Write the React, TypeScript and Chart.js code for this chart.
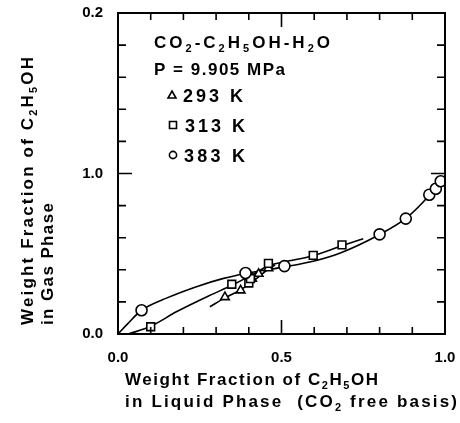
import { useEffect, useRef } from 'react';
import { Chart, registerables } from 'chart.js';

Chart.register(...registerables);

const FONT = '"Liberation Sans", Arial, Helvetica, sans-serif';

// Axis tick labels (only these positions carry text)
const xTickValues = [0, 0.5, 1];
const xTickLabels = ['0.0', '0.5', '1.0'];
const yTickValues = [0, 1, 2];
const yTickLabels = ['0.0', '1.0', '0.2'];

// Measured equilibrium points, weight fraction liquid (x) vs gas (y)
const x293 = [0.327, 0.375, 0.41, 0.43, 0.46];
const y293 = [0.23, 0.272, 0.345, 0.375, 0.41];

const x313 = [0.1, 0.348, 0.4, 0.405, 0.46, 0.597, 0.685];
const y313 = [0.045, 0.31, 0.318, 0.345, 0.44, 0.49, 0.555];

const x383 = [0.072, 0.39, 0.509, 0.8, 0.88, 0.952, 0.972, 0.987];
const y383 = [0.148, 0.38, 0.423, 0.621, 0.719, 0.868, 0.905, 0.952];

// Correlated curves
const curve293X = [0.281, 0.327, 0.375, 0.42, 0.46, 0.48];
const curve293Y = [0.17, 0.225, 0.275, 0.34, 0.405, 0.43];

const curve313X = [0.032, 0.1, 0.18, 0.28, 0.35, 0.42, 0.46, 0.51, 0.597, 0.685, 0.75];
const curve313Y = [0, 0.048, 0.14, 0.24, 0.305, 0.38, 0.425, 0.45, 0.488, 0.55, 0.594];

const curve383X = [0, 0.03, 0.072, 0.15, 0.24, 0.32, 0.39, 0.5, 0.6, 0.68, 0.8, 0.88, 0.95, 0.99];
const curve383Y = [0, 0.065, 0.148, 0.225, 0.295, 0.345, 0.377, 0.415, 0.455, 0.505, 0.62, 0.72, 0.86, 0.965];

type Seg = [string, boolean];

const pts = (xs: number[], ys: number[]) => xs.map((x, i) => ({ x, y: ys[i] }));

// Draws a line of text with subscripts, letter-spaced to span the given width
function drawRich(
  ctx: CanvasRenderingContext2D,
  segs: Seg[],
  x: number,
  y: number,
  size: number,
  width: number,
  rotate = false
) {
  ctx.save();
  ctx.translate(x, y);
  if (rotate) ctx.rotate(-Math.PI / 2);
  ctx.fillStyle = '#000';
  ctx.textAlign = 'left';
  ctx.textBaseline = 'alphabetic';
  const main = `bold ${size}px ${FONT}`;
  const sub = `bold ${Math.round(size * 0.62)}px ${FONT}`;
  (ctx as any).letterSpacing = '0px';
  const widths: number[] = [];
  let natural = 0;
  let n = 0;
  for (const [t, s] of segs) {
    ctx.font = s ? sub : main;
    const w = ctx.measureText(t).width;
    widths.push(w);
    natural += w;
    n += t.length;
  }
  const sp = n > 1 ? (width - natural) / (n - 1) : 0;
  (ctx as any).letterSpacing = `${sp}px`;
  let cx = 0;
  segs.forEach(([t, s], i) => {
    ctx.font = s ? sub : main;
    ctx.fillText(t, cx, s ? size * 0.22 : 0);
    cx += widths[i] + sp * t.length;
  });
  ctx.restore();
}

function marker(ctx: CanvasRenderingContext2D, kind: string, x: number, y: number) {
  ctx.save();
  ctx.lineWidth = 1.6;
  ctx.strokeStyle = '#000';
  ctx.fillStyle = '#fff';
  ctx.beginPath();
  if (kind === 'triangle') {
    ctx.moveTo(x, y - 4);
    ctx.lineTo(x + 4, y + 3);
    ctx.lineTo(x - 4, y + 3);
    ctx.closePath();
  } else if (kind === 'rect') {
    ctx.rect(x - 3.5, y - 3.5, 7, 7);
  } else {
    ctx.arc(x, y, 3.6, 0, Math.PI * 2);
  }
  ctx.fill();
  ctx.stroke();
  ctx.restore();
}

const framePlugin = {
  id: 'frameAndNotes',
  afterDraw(chart: any) {
    const ctx: CanvasRenderingContext2D = chart.ctx;
    const { left, right, top, bottom } = chart.chartArea;
    const xs = chart.scales.x;
    const ys = chart.scales.y;
    ctx.save();
    ctx.strokeStyle = '#000';
    ctx.lineWidth = 2;
    ctx.strokeRect(left, top, right - left, bottom - top);
    ctx.lineWidth = 1.6;
    ctx.beginPath();
    for (const t of xs.ticks) {
      const v = t.value;
      if (v <= 0 || v >= 1) continue;
      const px = xs.getPixelForValue(v);
      const len = Math.abs(v - 0.5) < 1e-6 ? 14 : 7;
      ctx.moveTo(px, bottom);
      ctx.lineTo(px, bottom - len);
      ctx.moveTo(px, top);
      ctx.lineTo(px, top + len);
    }
    for (const t of ys.ticks) {
      const v = t.value;
      if (v <= 0 || v >= 2) continue;
      const py = ys.getPixelForValue(v);
      const len = Math.abs(v - 1) < 1e-6 ? 14 : 8;
      ctx.moveTo(left, py);
      ctx.lineTo(left + len, py);
      ctx.moveTo(right, py);
      ctx.lineTo(right - len, py);
    }
    ctx.stroke();
    ctx.restore();

    // System description and symbol key
    drawRich(ctx, [['CO', false], ['2', true], ['-C', false], ['2', true], ['H', false], ['5', true], ['OH-H', false], ['2', true], ['O', false]], 154, 48, 17, 176);
    drawRich(ctx, [['P = 9.905 MPa', false]], 154, 75, 17, 131);
    marker(ctx, 'triangle', 172, 95);
    drawRich(ctx, [['293 K', false]], 183, 101.5, 18, 60);
    marker(ctx, 'rect', 173, 125);
    drawRich(ctx, [['313 K', false]], 185, 131.5, 18, 60);
    marker(ctx, 'circle', 173, 155);
    drawRich(ctx, [['383 K', false]], 184, 161.5, 18, 61);

    // Axis titles
    drawRich(ctx, [['Weight Fraction of C', false], ['2', true], ['H', false], ['5', true], ['OH', false]], 125, 385, 17, 253);
    drawRich(ctx, [['in Liquid Phase  (CO', false], ['2', true], [' free basis)', false]], 125, 407, 17, 332);
    drawRich(ctx, [['Weight Fraction of C', false], ['2', true], ['H', false], ['5', true], ['OH', false]], 33, 325, 17, 268, true);
    drawRich(ctx, [['in Gas Phase', false]], 52.5, 325, 17, 122, true);
  },
};

export default function App() {
  const ref = useRef<HTMLCanvasElement>(null);

  useEffect(() => {
    if (!ref.current) return;
    const markerSet = (data: any, style: string, radius: number) => ({
      data,
      showLine: false,
      pointStyle: style,
      pointRadius: radius,
      pointBackgroundColor: '#fff',
      pointBorderColor: '#000',
      pointBorderWidth: 1.6,
    });
    const curveSet = (data: any) => ({
      data,
      showLine: true,
      borderColor: '#000',
      borderWidth: 1.6,
      pointRadius: 0,
      cubicInterpolationMode: 'monotone',
      fill: false,
    });
    const tickFont = { family: FONT, size: 15, weight: 'bold' as const };
    const chart = new Chart(ref.current, {
      type: 'scatter',
      data: {
        datasets: [
          markerSet(pts(x383, y383), 'circle', 5.5),
          markerSet(pts(x313, y313), 'rect', 5.5),
          markerSet(pts(x293, y293), 'triangle', 5),
          curveSet(pts(curve383X, curve383Y)),
          curveSet(pts(curve313X, curve313Y)),
          curveSet(pts(curve293X, curve293Y)),
        ] as any,
      },
      options: {
        responsive: false,
        animation: false,
        devicePixelRatio: 1,
        events: [],
        layout: { padding: { top: 13, right: 15, left: 0, bottom: 0 } },
        plugins: { legend: { display: false }, tooltip: { enabled: false } },
        scales: {
          x: {
            type: 'linear',
            min: 0,
            max: 1,
            afterFit: (s: any) => {
              s.height = 89;
              s.paddingLeft = 0;
              s.paddingRight = 0;
            },
            grid: { display: false, drawTicks: false },
            border: { display: false },
            ticks: {
              stepSize: 0.1,
              autoSkip: false,
              maxRotation: 0,
              padding: 15,
              color: '#000',
              font: tickFont,
              callback: (v: any) => {
                const i = xTickValues.findIndex((t) => Math.abs(t - Number(v)) < 1e-6);
                return i >= 0 ? xTickLabels[i] : '';
              },
            },
          },
          y: {
            type: 'linear',
            min: 0,
            max: 2,
            afterFit: (s: any) => {
              s.width = 118;
              s.paddingTop = 0;
              s.paddingBottom = 0;
            },
            grid: { display: false, drawTicks: false },
            border: { display: false },
            ticks: {
              stepSize: 0.2,
              autoSkip: false,
              padding: 15,
              color: '#000',
              font: tickFont,
              callback: (v: any) => {
                const i = yTickValues.findIndex((t) => Math.abs(t - Number(v)) < 1e-6);
                return i >= 0 ? yTickLabels[i] : '';
              },
            },
          },
        },
      } as any,
      plugins: [framePlugin],
    });
    return () => chart.destroy();
  }, []);

  return (
    <div style={{ position: 'absolute', left: 0, top: 0, width: 460, height: 423, background: '#fff' }}>
      <canvas ref={ref} width={460} height={423} style={{ display: 'block' }} />
    </div>
  );
}
